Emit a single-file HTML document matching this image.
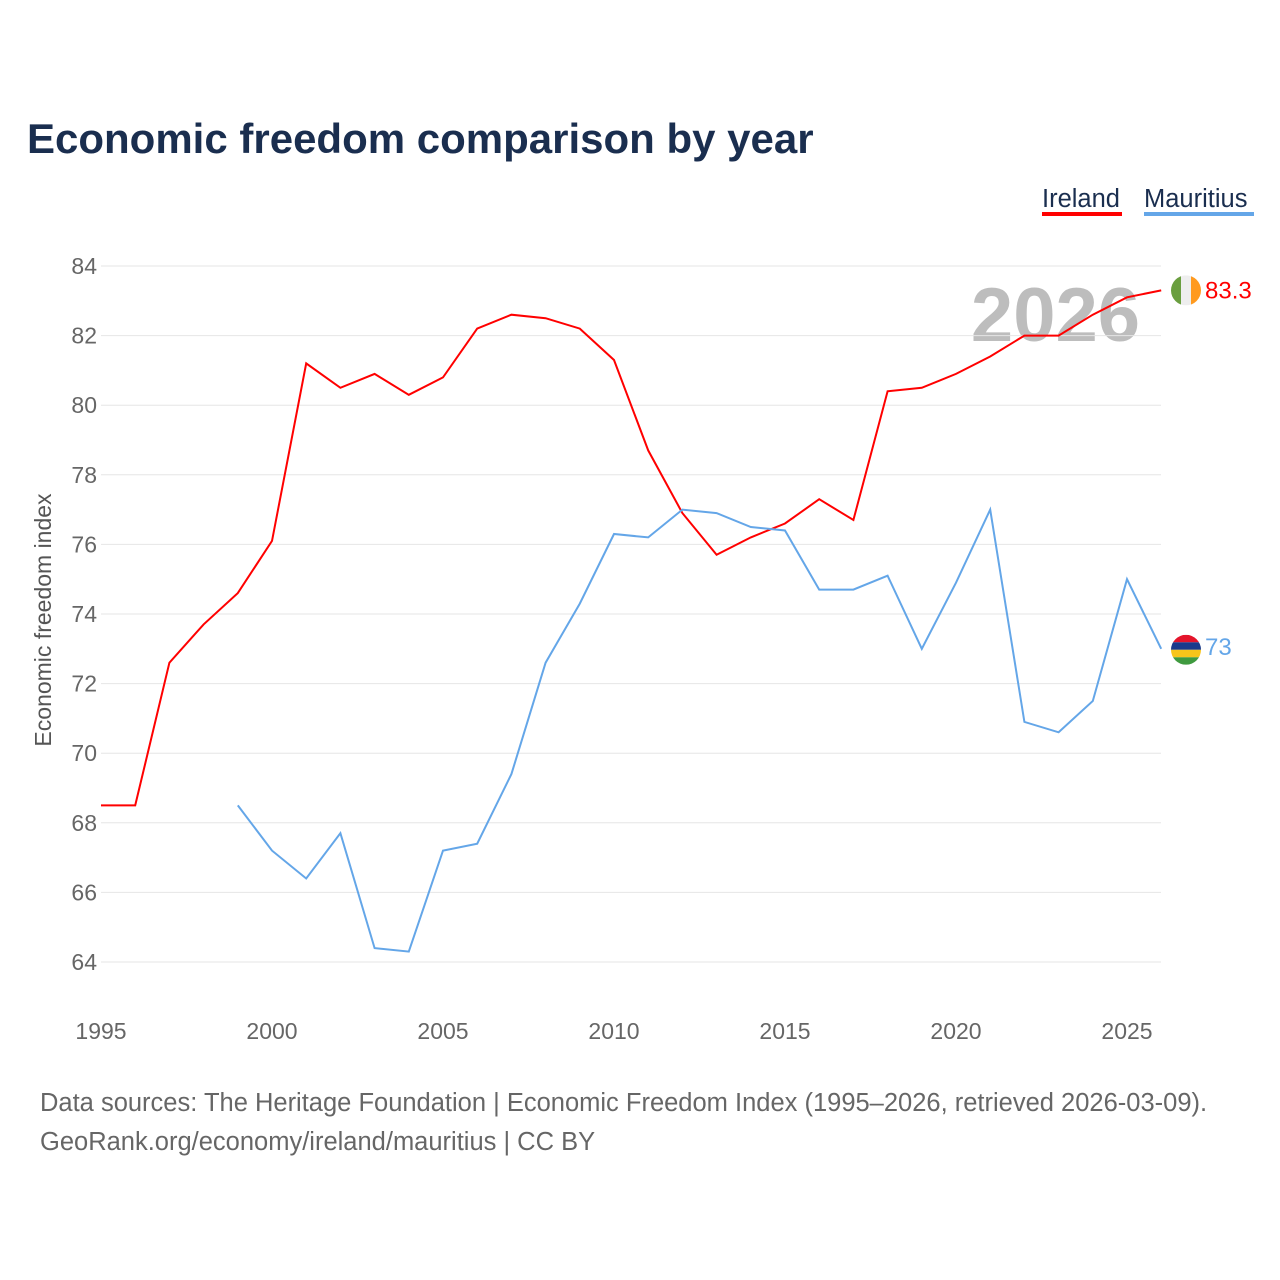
<!DOCTYPE html>
<html><head><meta charset="utf-8"><style>
body{margin:0;background:#fff;font-family:"Liberation Sans",sans-serif;}
svg{display:block}
</style></head><body>
<svg id="c" width="1280" height="1280">
<text x="27" y="153" font-size="42" font-weight="bold" fill="#1a2e4f">Economic freedom comparison by year</text>
<g><text x="1042" y="207" font-size="25.5" fill="#1a2e4f">Ireland</text><rect x="1042" y="212" width="80" height="4" fill="#ff0000"/></g>
<g><text x="1144" y="207" font-size="25.5" fill="#1a2e4f">Mauritius</text><rect x="1144" y="212" width="110" height="4" fill="#64a6e8"/></g>
<text x="1140" y="341" font-size="76" font-weight="bold" fill="#bdbdbd" text-anchor="end">2026</text>
<text transform="translate(51,620) rotate(-90)" font-size="23" fill="#555" text-anchor="middle">Economic freedom index</text>
<g id="grid"></g><g id="lines"></g><g id="ends"></g>
<text x="40" y="1111" font-size="25.5" fill="#666">Data sources: The Heritage Foundation | Economic Freedom Index (1995–2026, retrieved 2026-03-09).</text>
<text x="40" y="1150" font-size="25.5" fill="#666">GeoRank.org/economy/ireland/mauritius | CC BY</text>
</svg>
<script>
const years=[1995,1996,1997,1998,1999,2000,2001,2002,2003,2004,2005,2006,2007,2008,2009,2010,2011,2012,2013,2014,2015,2016,2017,2018,2019,2020,2021,2022,2023,2024,2025,2026];
const ireland=[68.5,68.5,72.6,73.7,74.6,76.1,81.2,80.5,80.9,80.3,80.8,82.2,82.6,82.5,82.2,81.3,78.7,76.9,75.7,76.2,76.6,77.3,76.7,80.4,80.5,80.9,81.4,82.0,82.0,82.6,83.1,83.3];
const mauritius=[null,null,null,null,68.5,67.2,66.4,67.7,64.4,64.3,67.2,67.4,69.4,72.6,74.3,76.3,76.2,77.0,76.9,76.5,76.4,74.7,74.7,75.1,73.0,74.9,77.0,70.9,70.6,71.5,75.0,73.0];
const yTicks=[64,66,68,70,72,74,76,78,80,82,84];
const xTicks=[1995,2000,2005,2010,2015,2020,2025];
const NS="http://www.w3.org/2000/svg";
const X=y=>101+(y-1995)*34.2, Y=v=>962-(v-64)*34.8;
function mk(t,a,p){const e=document.createElementNS(NS,t);for(const k in a)e.setAttribute(k,a[k]);p.appendChild(e);return e;}
const g=document.getElementById('grid');
yTicks.forEach(v=>{const l=mk('line',{x1:101,x2:1161,y1:Y(v),y2:Y(v),stroke:'#e6e6e6','stroke-width':1},g);


const t=mk('text',{x:97,y:Y(v)+8,'font-size':23,fill:'#666','text-anchor':'end'},g);t.textContent=v;

});
xTicks.forEach(v=>{const t=mk('text',{x:X(v),y:1039,'font-size':23,fill:'#666','text-anchor':'middle'},g);t.textContent=v;

});
const L=document.getElementById('lines');
function line(data,col,name){let d='';data.forEach((v,i)=>{if(v==null)return;d+=(d?'L':'M')+X(years[i]).toFixed(1)+','+Y(v).toFixed(1);});
const p=mk('path',{d:d,fill:'none',stroke:col,'stroke-width':2},L);

}
line(ireland,'#ff0000','ireland-line');line(mauritius,'#64a6e8','mauritius-line');
const E=document.getElementById('ends');
const iv=ireland[ireland.length-1], mv=mauritius[mauritius.length-1], cx=1186;
let cy=Y(iv);
const f1=mk('g',{},E);


const cp1=mk('clipPath',{id:'ci'},f1);mk('circle',{cx:cx,cy:cy,r:15},cp1);
[['#6a9e3f',-15],['#eeeeee',-5],['#ff9a1f',5]].forEach(([c,o])=>mk('rect',{x:cx+o,y:cy-15,width:10,height:30,fill:c,'clip-path':'url(#ci)'},f1));
const t1=mk('text',{x:1205,y:cy+8,'font-size':24,fill:'#ff0000'},E);t1.textContent=iv;


cy=Y(mv)+1;
const f2=mk('g',{},E);


const cp=mk('clipPath',{id:'cm'},f2);mk('circle',{cx:cx,cy:cy,r:15},cp);
[['#e4142b',-15],['#1a3a8c',-7.5],['#f7c51a',0],['#3f9a3f',7.5]].forEach(([c,o])=>mk('rect',{x:cx-15,y:cy+o,width:30,height:7.5,fill:c,'clip-path':'url(#cm)'},f2));
const t2=mk('text',{x:1205,y:Y(mv)+6,'font-size':24,fill:'#64a6e8'},E);t2.textContent=mv;


</script>
</body></html>
